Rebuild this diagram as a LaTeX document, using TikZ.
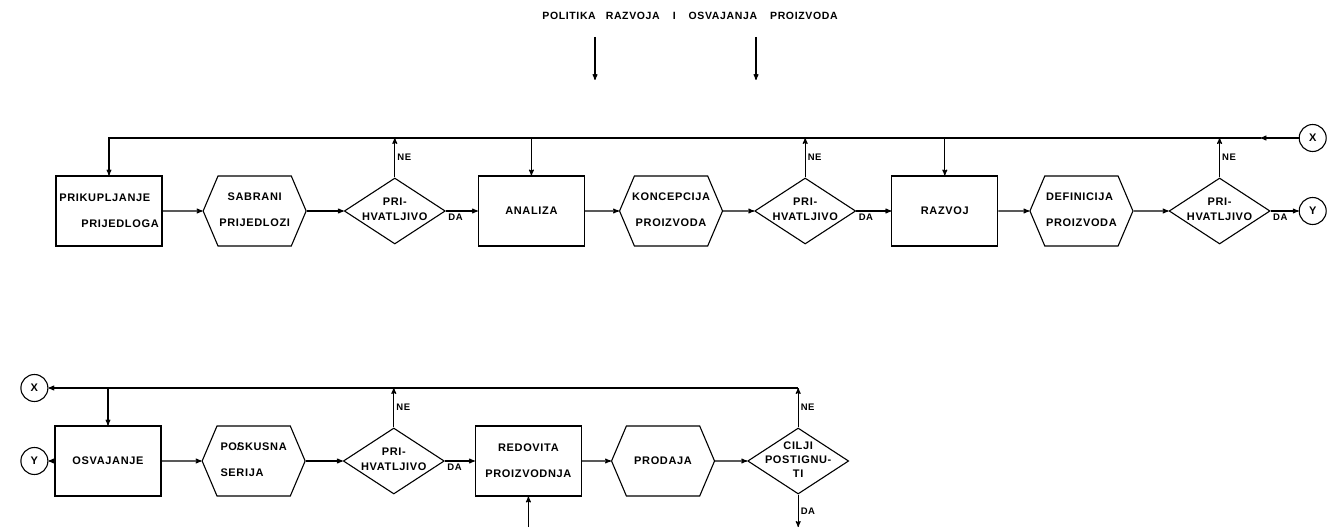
\documentclass[tikz,border=0pt]{standalone}
\usepackage{fontspec}
\setmainfont{Liberation Sans}[LetterSpace=6]
\usetikzlibrary{positioning,arrows,shapes.geometric,shapes.symbols}

\newcommand{\dtxt}[2][c]{\makebox[0pt]{\begin{tabular}{@{}#1@{}}#2\end{tabular}}}

\begin{document}
\begin{tikzpicture}[x=1pt,y=-1pt,>=stealth',line width=1.1pt,
  font=\fontsize{11}{12}\selectfont\bfseries,
  kutija/.style={draw,rectangle,minimum width=106pt,minimum height=70pt,align=center,inner sep=2pt},
  dokument/.style={draw,signal,signal to=west and east,signal pointer angle=134,minimum width=103pt,minimum height=70pt,inner sep=0pt},
  odluka/.style={draw,diamond,minimum width=101pt,minimum height=66pt,inner sep=0pt},
  spoj/.style={draw,circle,minimum size=27pt,inner sep=0pt},
  oznaka/.style={font=\fontsize{9.5}{10}\selectfont\bfseries,inner sep=2pt}]

    \useasboundingbox (0,0) rectangle (1327,529);

    %Naslov
    \node (politika) at (690,16) {\fontsize{10.5}{10}\selectfont POLITIKA\hspace{10pt}RAZVOJA\hspace{13pt}I\hspace{13pt}OSVAJANJA\hspace{13pt}PROIZVODA};
    \coordinate (p1) at (595,37);
    \coordinate (p1k) at (595,80);
    \coordinate (p2) at (756,37);
    \coordinate (p2k) at (756,80);
    \draw[->] (p1) -- (p1k);
    \draw[->] (p2) -- (p2k);

    %Gornji red
    \node[kutija, align=left] (prikupljanje) at (109,211) {PRIKUPLJANJE\\[14pt]\hspace*{22pt}PRIJEDLOGA};
    \node[dokument, right=40pt of prikupljanje] (sabrani) {\dtxt{SABRANI\\[14pt]PRIJEDLOZI}};
    \node[odluka, right=37pt of sabrani] (prihvat1) {\dtxt{PRI-\\[3pt]HVATLJIVO}};
    \node[kutija, right=32pt of prihvat1] (analiza) {ANALIZA};
    \node[dokument, right=34pt of analiza] (koncepcija) {\dtxt{KONCEPCIJA\\[14pt]PROIZVODA}};
    \node[odluka, right=31pt of koncepcija] (prihvat2) {\dtxt{PRI-\\[3pt]HVATLJIVO}};
    \node[kutija, right=35pt of prihvat2] (razvoj) {RAZVOJ};
    \node[dokument, right=31pt of razvoj] (definicija) {\dtxt[l]{DEFINICIJA\\[14pt]PROIZVODA}};
    \node[odluka, right=35pt of definicija] (prihvat3) {\dtxt{PRI-\\[3pt]HVATLJIVO}};
    \node[spoj, right=28pt of prihvat3] (Y1) {Y};
    \coordinate (hrbat) at (0,138);
    \node[spoj] (X1) at (Y1 |- hrbat) {X};
    \coordinate[left=38pt of X1] (xstrelica);

    %Povratna linija gore
    \draw[->] (X1) -- (xstrelica);
    \draw[->] (xstrelica) -- (prikupljanje.north |- hrbat) -- (prikupljanje.north);
    \draw[->] (analiza.north |- hrbat) -- (analiza);
    \draw[->] (razvoj.north |- hrbat) -- (razvoj);
    \draw[->] (prihvat1.north) -- node[oznaka,right]{NE} (prihvat1.north |- hrbat);
    \draw[->] (prihvat2.north) -- node[oznaka,right]{NE} (prihvat2.north |- hrbat);
    \draw[->] (prihvat3.north) -- node[oznaka,right]{NE} (prihvat3.north |- hrbat);

    %Strelice gore
    \draw[->] (prikupljanje) -- (sabrani);
    \draw[->] (sabrani) -- (prihvat1);
    \draw[->] (prihvat1) -- node[oznaka,below right,pos=0]{DA} (analiza);
    \draw[->] (analiza) -- (koncepcija);
    \draw[->] (koncepcija) -- (prihvat2);
    \draw[->] (prihvat2) -- node[oznaka,below right,pos=0]{DA} (razvoj);
    \draw[->] (razvoj) -- (definicija);
    \draw[->] (definicija) -- (prihvat3);
    \draw[->] (prihvat3) -- node[oznaka,below right,pos=0]{DA} (Y1);

    %Donji red
    \node[kutija] (osvajanje) at (108,461) {OSVAJANJE};
    \node[dokument, right=40pt of osvajanje] (pokusna) {\dtxt[l]{PO\makebox[0pt][l]{\mdseries/}SKUSNA\\[14pt]SERIJA}};
    \node[odluka, right=37pt of pokusna] (prihvat4) {\dtxt{PRI-\\[3pt]HVATLJIVO}};
    \node[kutija, right=30pt of prihvat4] (redovita) {REDOVITA\\[14pt]PROIZVODNJA};
    \node[dokument, right=29pt of redovita] (prodaja) {PRODAJA};
    \node[odluka, right=32pt of prodaja] (ciljevi) {\dtxt{CILJI\\[2pt]POSTIGNU-\\[2pt]TI}};
    \node[spoj, left=6pt of osvajanje] (Y2) {Y};
    \coordinate (hrbat2) at (0,388);
    \coordinate (dno) at (0,527);
    \node[spoj] (X2) at (Y2 |- hrbat2) {X};

    %Povratna linija dolje
    \draw[->] (ciljevi.north) -- node[oznaka,right]{NE} (ciljevi.north |- hrbat2);
    \draw[->] (ciljevi.north |- hrbat2) -- (X2);
    \draw[->] (prihvat4.north) -- node[oznaka,right]{NE} (prihvat4.north |- hrbat2);
    \draw[->] (osvajanje.north |- hrbat2) -- (osvajanje);

    %Strelice dolje
    \draw[->] (osvajanje) -- (Y2);
    \draw[->] (osvajanje) -- (pokusna);
    \draw[->] (pokusna) -- (prihvat4);
    \draw[->] (prihvat4) -- node[oznaka,below right,pos=0]{DA} (redovita);
    \draw[->] (redovita) -- (prodaja);
    \draw[->] (prodaja) -- (ciljevi);
    \draw[->] (redovita.south |- dno) -- (redovita);
    \draw[->] (ciljevi.south) -- node[oznaka,right]{DA} (ciljevi.south |- dno);

\end{tikzpicture}
\end{document}
